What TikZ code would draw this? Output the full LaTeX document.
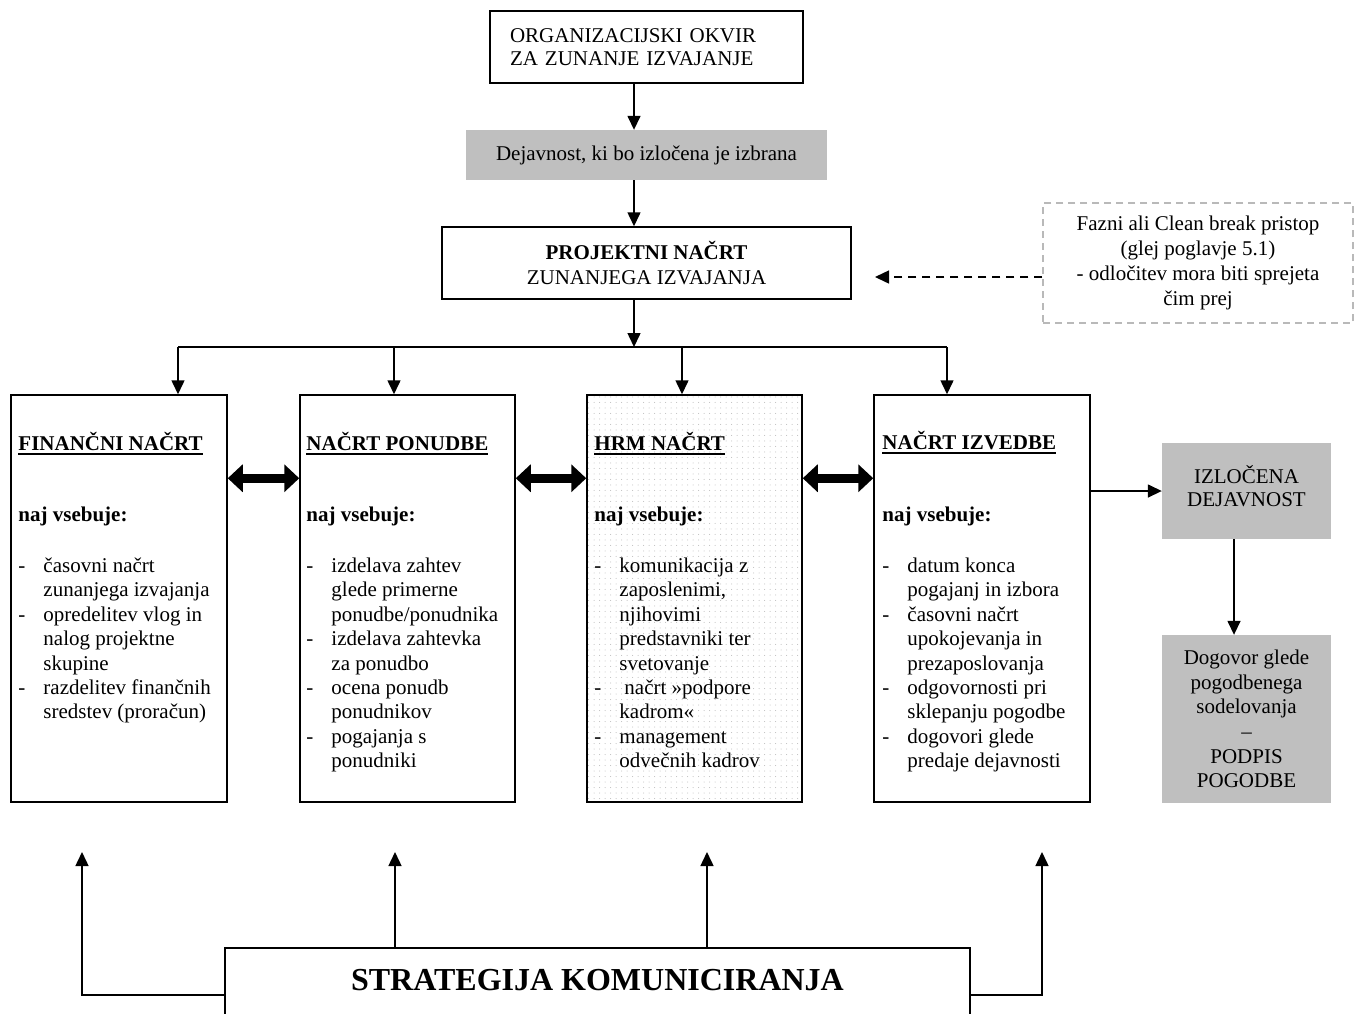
\documentclass[tikz,border=0pt]{standalone}
\usepackage{fontspec}
\setmainfont{Liberation Serif}
\usetikzlibrary{arrows.meta,calc,patterns.meta}

\newcommand\myul[1]{\setbox0=\hbox{#1}\rlap{\rule[-5pt]{\wd0}{2.5pt}}\box0}
\newcommand\itm{\makebox[25pt][l]{-}}
\newcommand\cnt{\hspace*{25pt}}

\begin{document}
\begin{tikzpicture}[x=1pt,y=-1pt,
  font=\fontsize{21}{24.4}\selectfont,
  box/.style={draw, line width=1.5pt, inner sep=0pt},
  graybox/.style={fill=gray!50, inner sep=0pt},
  arr/.style={line width=1.5pt, -{Triangle[length=14pt,width=13pt]}},
  dbl/.style={line width=9pt, {Triangle[length=15pt,width=27pt]}-{Triangle[length=15pt,width=27pt]}},
  txt/.style={inner sep=0pt, anchor=north west, align=left},
  ]
\useasboundingbox (0,0) rectangle (1360,1013);
\clip (0,0) rectangle (1360,1013);
\fill[white] (0,0) rectangle (1360,1013);

% top chain
\node[box, minimum width=313, minimum height=72, text width=273, inner xsep=20pt, align=left,
      font=\fontsize{21}{23}\selectfont] (org) at (646.5,47) {ORGANIZACIJSKI OKVIR\\ZA ZUNANJE IZVAJANJE};
\node[graybox, minimum width=361, minimum height=50] (sel) at (646.5,155) {Dejavnost, ki bo izločena je izbrana};
\node[box, minimum width=409, minimum height=72, align=center,
      font=\fontsize{21}{25}\selectfont] (proj) at (646.5,263) {\textbf{PROJEKTNI NAČRT}\\ZUNANJEGA IZVAJANJA};
\node[draw=gray!55, line width=1.2pt, dash pattern=on 7pt off 5pt, minimum width=310, minimum height=120,
      align=center, inner sep=0pt, font=\fontsize{21}{25}\selectfont] (note) at (1198,263)
      {Fazni ali Clean break pristop\\(glej poglavje 5.1)\\- odločitev mora biti sprejeta\\čim prej};

\coordinate (vx) at (634,0);
\draw[arr] (org.south -| vx) -- (sel.north -| vx);
\draw[arr] (sel.south -| vx) -- (proj.north -| vx);
\coordinate (dtip) at (875,277);
\draw[line width=1.5pt, dash pattern=on 8pt off 6pt, -{Triangle[length=14pt,width=13pt]}] (note.west |- dtip) -- (dtip);

% four plan boxes
\node[box, minimum width=216, minimum height=407] (b1) at (119,598.5) {};
\node[box, minimum width=215, minimum height=407] (b2) at (407.5,598.5) {};
\node[box, minimum width=215, minimum height=407, pattern={Dots[radius=0.5pt,distance=5.5pt]}, pattern color=gray!55] (b3) at (694.5,598.5) {};
\node[box, minimum width=216, minimum height=407] (b4) at (982,598.5) {};

\node[txt] (t1) at ($(b1.north west)+(8,36)$) {\rule{0pt}{20pt}\myul{\textbf{FINANČNI NAČRT}}\\[46.6pt]
  \textbf{naj vsebuje:}\\[26.6pt]
  \itm časovni načrt\\ \cnt zunanjega izvajanja\\
  \itm opredelitev vlog in\\ \cnt nalog projektne\\ \cnt skupine\\
  \itm razdelitev finančnih\\ \cnt sredstev (proračun)};
\node[txt] (t2) at ($(b2.north west)+(7,36)$) {\rule{0pt}{20pt}\myul{\textbf{NAČRT PONUDBE}}\\[46.6pt]
  \textbf{naj vsebuje:}\\[26.6pt]
  \itm izdelava zahtev\\ \cnt glede primerne\\ \cnt ponudbe/ponudnika\\
  \itm izdelava zahtevka\\ \cnt za ponudbo\\
  \itm ocena ponudb\\ \cnt ponudnikov\\
  \itm pogajanja s\\ \cnt ponudniki};
\node[txt] (t3) at ($(b3.north west)+(8,36)$) {\rule{0pt}{20pt}\myul{\textbf{HRM NAČRT}}\\[46.6pt]
  \textbf{naj vsebuje:}\\[26.6pt]
  \itm komunikacija z\\ \cnt zaposlenimi,\\ \cnt njihovimi\\ \cnt predstavniki ter\\ \cnt svetovanje\\
  \itm\hspace*{5pt}načrt »podpore\\ \cnt kadrom«\\
  \itm management\\ \cnt odvečnih kadrov};
\node[txt] (t4) at ($(b4.north west)+(9,35)$) {\rule{0pt}{20pt}\myul{\textbf{NAČRT IZVEDBE}}\\[47.6pt]
  \textbf{naj vsebuje:}\\[26.6pt]
  \itm datum konca\\ \cnt pogajanj in izbora\\
  \itm časovni načrt\\ \cnt upokojevanja in\\ \cnt prezaposlovanja\\
  \itm odgovornosti pri\\ \cnt sklepanju pogodbe\\
  \itm dogovori glede\\ \cnt predaje dejavnosti};

% distribution
\coordinate (d1) at (178,347);
\coordinate (d2) at (394,347);
\coordinate (d3) at (682,347);
\coordinate (d4) at (947,347);
\draw[arr] (proj.south -| vx) -- (vx |- d1);
\draw[line width=2.5pt] (d1) -- (d4);
\draw[arr] (d1) -- (d1 |- b1.north);
\draw[arr] (d2) -- (d2 |- b2.north);
\draw[arr] (d3) -- (d3 |- b3.north);
\draw[arr] (d4) -- (d4 |- b4.north);

% double arrows
\draw[dbl] ($(b1.north east)+(0,84)$) -- ($(b2.north west)+(0,84)$);
\draw[dbl] ($(b2.north east)+(0,84)$) -- ($(b3.north west)+(0,84)$);
\draw[dbl] ($(b3.north east)+(0,84)$) -- ($(b4.north west)+(0,84)$);

% right side
\node[graybox, minimum width=169, minimum height=96] (iz) at (1246.5,491) {};
\node[align=center, inner sep=0pt, font=\fontsize{21}{23}\selectfont] (izt) at (1246.5,486.5) {IZLOČENA\\DEJAVNOST};
\node[graybox, minimum width=169, minimum height=168, align=center,
      font=\fontsize{21}{24.6}\selectfont] (dog) at (1246.5,719)
      {Dogovor glede\\pogodbenega\\sodelovanja\\–\\PODPIS\\POGODBE};
\draw[arr] (b4.east |- iz.west) -- (iz.west);
\coordinate (vr) at (1234,0);
\draw[arr] (iz.south -| vr) -- (dog.north -| vr);

% bottom
\node[box, minimum width=745, minimum height=100, anchor=north] (strat) at (597.5,947) {};
\node[anchor=base, inner sep=0pt, font=\fontsize{32}{36}\selectfont\bfseries] (stext) at (597.5,990) {STRATEGIJA KOMUNICIRANJA};
\coordinate (u1) at (82,852);
\coordinate (u2) at (395,852);
\coordinate (u3) at (707,852);
\coordinate (u4) at (1042,852);
\coordinate (sy) at (0,995);
\draw[arr] (strat.west |- sy) -| (u1);
\draw[arr] (strat.north -| u2) -- (u2);
\draw[arr] (strat.north -| u3) -- (u3);
\draw[arr] (strat.east |- sy) -| (u4);
\end{tikzpicture}
\end{document}
